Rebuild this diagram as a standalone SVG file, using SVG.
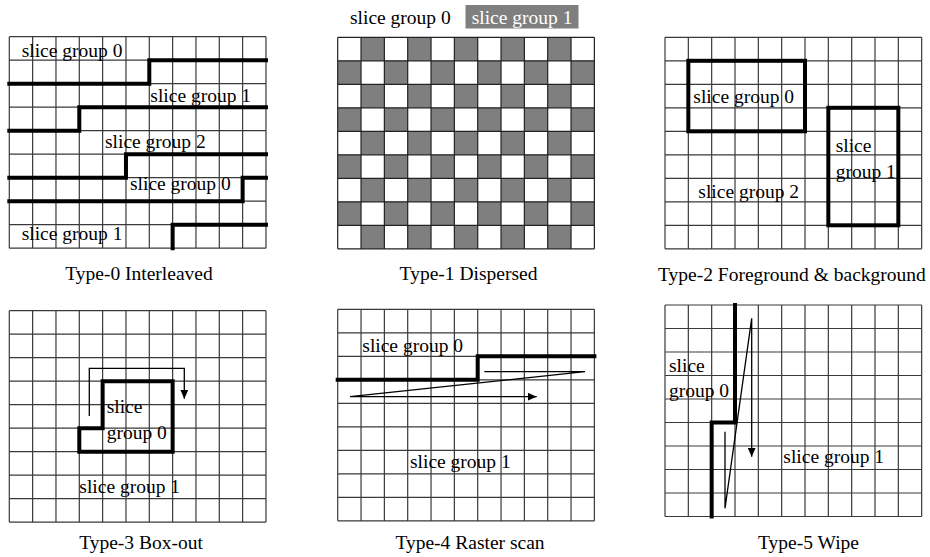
<svg xmlns="http://www.w3.org/2000/svg" xmlns:xlink="http://www.w3.org/1999/xlink" width="930" height="557" viewBox="0 0 930 557">
<style>
text{font-family:"Liberation Serif","Times New Roman",serif;font-size:19.5px;fill:#000}
.grid{fill:none;stroke:#3a3a3a;stroke-width:1.2}
.gridk{fill:none;stroke:#222;stroke-width:1.2}
.thick{fill:none;stroke:#000;stroke-width:4;stroke-linejoin:miter;stroke-linecap:square}
.thin{fill:none;stroke:#000;stroke-width:1.3}
.cell{fill:#7f7f7f}
.title{text-anchor:middle}
</style>
<defs>
<path id="gridpath" d="M0 0V211.5M23.33 0V211.5M46.67 0V211.5M70 0V211.5M93.33 0V211.5M116.67 0V211.5M140 0V211.5M163.33 0V211.5M186.67 0V211.5M210 0V211.5M233.33 0V211.5M256.67 0V211.5M0 0H256.67M0 23.5H256.67M0 47H256.67M0 70.5H256.67M0 94H256.67M0 117.5H256.67M0 141H256.67M0 164.5H256.67M0 188H256.67M0 211.5H256.67"/>
<marker id="arr" markerUnits="userSpaceOnUse" markerWidth="10" markerHeight="8" refX="9" refY="4" orient="auto">
<path d="M0 0L9 4L0 8Z" fill="#000"/>
</marker>
</defs>

<g id="legend">
<text x="350" y="24">slice group 0</text>
<rect x="465.5" y="5" width="113" height="23.5" fill="#7f7f7f"/>
<text x="471.7" y="24" style="fill:#fff">slice group 1</text>
</g>

<g id="type0" transform="translate(9.3,36.7)">
<use xlink:href="#gridpath" class="grid"/>
<path class="thick" d="M0 47H140V23.5H256.67"/>
<path class="thick" d="M0 94H70V70.5H256.67"/>
<path class="thick" d="M0 141H116.67V117.5H256.67"/>
<path class="thick" d="M0 164.5H233.33V141H256.67"/>
<path class="thick" d="M163.33 211.5V188H256.67"/>
<text x="12.4" y="20">slice group 0</text>
<text x="141" y="65">slice group 1</text>
<text x="95.7" y="111.6">slice group 2</text>
<text x="120.7" y="153.3">slice group 0</text>
<text x="12.4" y="203.3">slice group 1</text>
</g>
<text class="title" x="139" y="280">Type-0 Interleaved</text>

<g id="type1" transform="translate(337.7,37.3)">
<path class="cell" d="M23.33 0h23.33v23.5h-23.33zM70 0h23.33v23.5h-23.33zM116.67 0h23.33v23.5h-23.33zM163.33 0h23.33v23.5h-23.33zM210 0h23.33v23.5h-23.33z
M0 23.5h23.33v23.5h-23.33zM46.67 23.5h23.33v23.5h-23.33zM93.33 23.5h23.33v23.5h-23.33zM140 23.5h23.33v23.5h-23.33zM186.67 23.5h23.33v23.5h-23.33zM233.33 23.5h23.33v23.5h-23.33z
M23.33 47h23.33v23.5h-23.33zM70 47h23.33v23.5h-23.33zM116.67 47h23.33v23.5h-23.33zM163.33 47h23.33v23.5h-23.33zM210 47h23.33v23.5h-23.33z
M0 70.5h23.33v23.5h-23.33zM46.67 70.5h23.33v23.5h-23.33zM93.33 70.5h23.33v23.5h-23.33zM140 70.5h23.33v23.5h-23.33zM186.67 70.5h23.33v23.5h-23.33zM233.33 70.5h23.33v23.5h-23.33z
M23.33 94h23.33v23.5h-23.33zM70 94h23.33v23.5h-23.33zM116.67 94h23.33v23.5h-23.33zM163.33 94h23.33v23.5h-23.33zM210 94h23.33v23.5h-23.33z
M0 117.5h23.33v23.5h-23.33zM46.67 117.5h23.33v23.5h-23.33zM93.33 117.5h23.33v23.5h-23.33zM140 117.5h23.33v23.5h-23.33zM186.67 117.5h23.33v23.5h-23.33zM233.33 117.5h23.33v23.5h-23.33z
M23.33 141h23.33v23.5h-23.33zM70 141h23.33v23.5h-23.33zM116.67 141h23.33v23.5h-23.33zM163.33 141h23.33v23.5h-23.33zM210 141h23.33v23.5h-23.33z
M0 164.5h23.33v23.5h-23.33zM46.67 164.5h23.33v23.5h-23.33zM93.33 164.5h23.33v23.5h-23.33zM140 164.5h23.33v23.5h-23.33zM186.67 164.5h23.33v23.5h-23.33zM233.33 164.5h23.33v23.5h-23.33z
M23.33 188h23.33v23.5h-23.33zM70 188h23.33v23.5h-23.33zM116.67 188h23.33v23.5h-23.33zM163.33 188h23.33v23.5h-23.33zM210 188h23.33v23.5h-23.33z"/>
<use xlink:href="#gridpath" class="gridk"/>
</g>
<text class="title" x="468.5" y="280">Type-1 Dispersed</text>

<g id="type2" transform="translate(665,37.3)">
<use xlink:href="#gridpath" class="grid"/>
<rect class="thick" x="23.33" y="23.5" width="116.67" height="70.5"/>
<rect class="thick" x="163.33" y="70.5" width="70" height="117.5"/>
<text x="28.3" y="66">slice group 0</text>
<text x="170.7" y="115">slice</text>
<text x="170.7" y="141">group 1</text>
<text x="33.3" y="161">slice group 2</text>
</g>
<text x="658" y="281">Type-2 Foreground &amp; background</text>

<g id="type3" transform="translate(9.3,310.7)">
<use xlink:href="#gridpath" class="grid"/>
<path class="thick" d="M93.33 70.5H163.33V141H70V117.5H93.33Z"/>
<path class="thin" d="M80 105.3V57.6H175V88" marker-end="url(#arr)"/>
<text x="97.4" y="102.6">slice</text>
<text x="97.4" y="128.3">group 0</text>
<text x="70" y="182.6">slice group 1</text>
</g>
<text class="title" x="141" y="549">Type-3 Box-out</text>

<g id="type4" transform="translate(337.7,309.3)">
<use xlink:href="#gridpath" class="grid"/>
<path class="thick" d="M0 70.5H140V47H256.67"/>
<path class="thin" d="M146.6 62.4H247.3L12.3 87.4H199" marker-end="url(#arr)"/>
<text x="24.6" y="42.4">slice group 0</text>
<text x="72.3" y="159">slice group 1</text>
</g>
<text class="title" x="470" y="549">Type-4 Raster scan</text>

<g id="type5" transform="translate(665,305)">
<use xlink:href="#gridpath" class="grid"/>
<path class="thick" d="M70 0V117.5H46.67V211.5"/>
<path class="thin" d="M60 126.7V203.3L86.7 13.3V151.7" marker-end="url(#arr)"/>
<text x="4" y="66.7">slice</text>
<text x="4" y="92.3">group 0</text>
<text x="118.3" y="158.3">slice group 1</text>
</g>
<text class="title" x="808.5" y="549">Type-5 Wipe</text>
</svg>
